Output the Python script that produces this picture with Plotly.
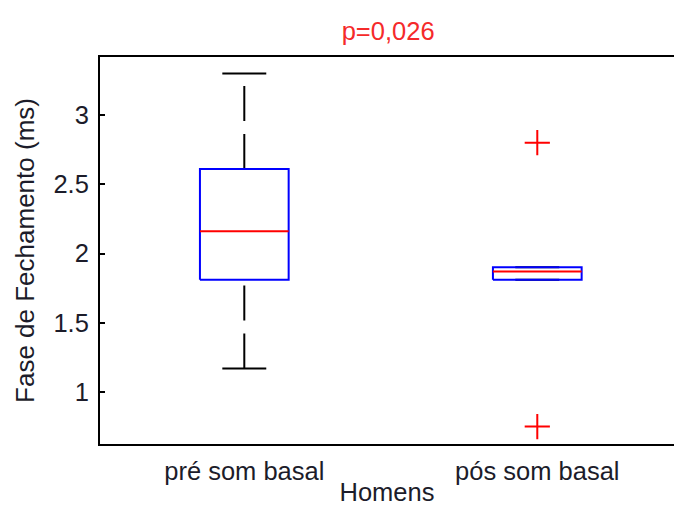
import plotly.graph_objects as go

# Box-plot summary per group (ms)
categories = ["pré som basal", "pós som basal"]
whisker_low = [1.17, 1.81]
q1 = [1.81, 1.81]
median = [2.16, 1.87]
q3 = [2.61, 1.90]
whisker_high = [3.30, 1.90]
outliers = [[], [2.80, 0.75]]

y_ticks = [1, 1.5, 2, 2.5, 3]
y_tick_text = ["1", "1.5", "2", "2.5", "3"]

BOX_HALF = 0.1514
CAP_HALF = 0.075
FONT = "Liberation Sans, Arial, sans-serif"
TEXT = "#1c1c2a"

fig = go.Figure()

for i, name in enumerate(categories):
    xc = i + 1
    whisk = dict(color="black", width=2, dash="35px,13px")
    # upper whisker drawn outward from the box, lower from the cap inward
    fig.add_trace(go.Scatter(x=[xc, xc], y=[q3[i], whisker_high[i]], mode="lines",
                             line=whisk, hoverinfo="skip"))
    fig.add_trace(go.Scatter(x=[xc, xc], y=[whisker_low[i], q1[i]], mode="lines",
                             line=whisk, hoverinfo="skip"))
    for v in (whisker_high[i], whisker_low[i]):
        fig.add_trace(go.Scatter(x=[xc - CAP_HALF, xc + CAP_HALF], y=[v, v], mode="lines",
                                 line=dict(color="black", width=2), hoverinfo="skip"))
    # box
    fig.add_trace(go.Scatter(
        x=[xc - BOX_HALF, xc + BOX_HALF, xc + BOX_HALF, xc - BOX_HALF, xc - BOX_HALF],
        y=[q1[i], q1[i], q3[i], q3[i], q1[i]],
        mode="lines", line=dict(color="#0000ff", width=2), hoverinfo="skip"))
    # median
    fig.add_trace(go.Scatter(x=[xc - BOX_HALF, xc + BOX_HALF], y=[median[i], median[i]],
                             mode="lines", line=dict(color="#ff0000", width=2),
                             hoverinfo="skip"))
    # outliers
    if outliers[i]:
        fig.add_trace(go.Scatter(
            x=[xc] * len(outliers[i]), y=outliers[i], mode="markers",
            marker=dict(symbol="cross-thin", size=18, line=dict(color="#ff0000", width=2)),
            hoverinfo="skip"))

fig.update_layout(
    width=674, height=506,
    margin=dict(l=100, r=0, t=57, b=62),
    paper_bgcolor="white", plot_bgcolor="white",
    showlegend=False,
    font=dict(family=FONT, size=25.5, color=TEXT),
    title=dict(text="p=0,026", font=dict(color="#f52a2a", size=25.5, family=FONT),
               x=0.502, xref="paper", xanchor="center",
               y=1 - 31 / 506, yref="container", yanchor="middle"),
    xaxis=dict(range=[0.5075, 2.4666], tickvals=[1, 2], ticktext=categories,
               showgrid=False, zeroline=False, showline=True, linecolor="black",
               linewidth=2, mirror=True, ticks="", ticklabelstandoff=3,
               title=dict(text="Homens", font=dict(size=25.5), standoff=24),
               automargin=False),
    yaxis=dict(range=[0.6245, 3.419], tickvals=y_ticks, ticktext=y_tick_text,
               showgrid=False, zeroline=False, showline=True, linecolor="black",
               linewidth=2, mirror=False, ticks="inside", ticklen=5, tickwidth=2,
               tickcolor="black", ticklabelstandoff=4,
               title=dict(text="Fase de Fechamento (ms)", font=dict(size=26), standoff=11),
               automargin=False),
)

fig.write_html("out.html")
